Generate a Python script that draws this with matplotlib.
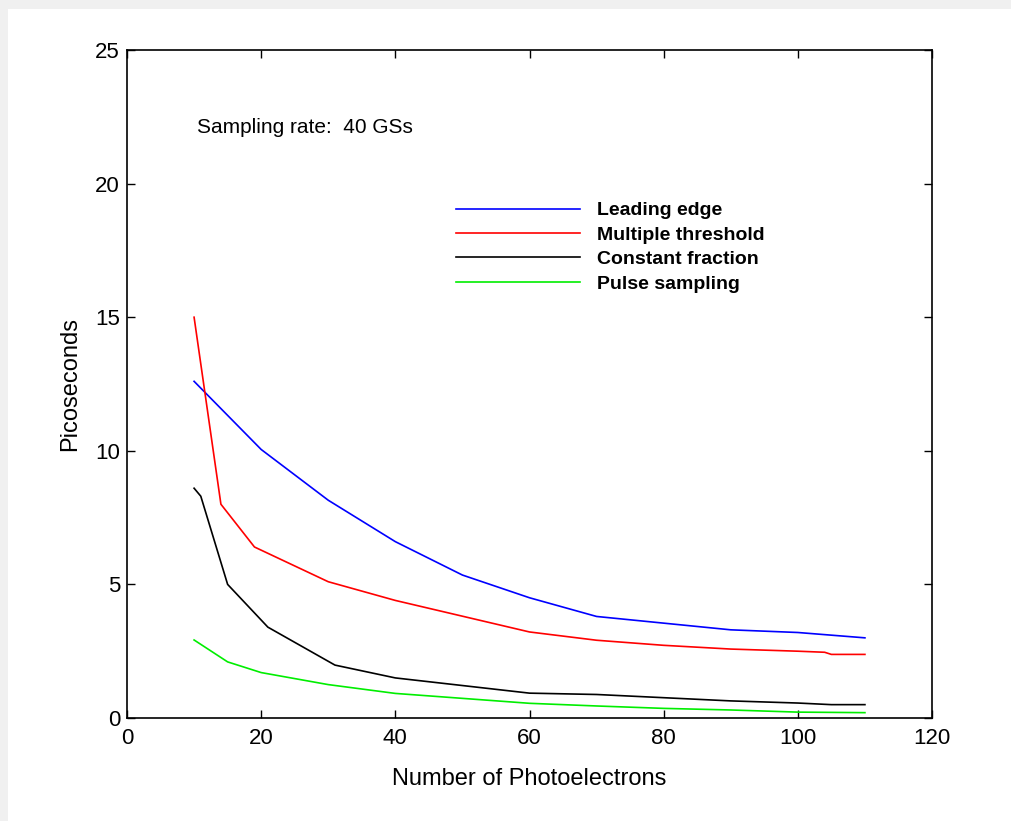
import matplotlib
matplotlib.use("Agg")
import matplotlib.pyplot as plt
from matplotlib.patches import Rectangle

plt.rcParams['font.family'] = ['Liberation Sans', 'DejaVu Sans']

# values
le_x = [10, 20, 30, 40, 50, 60, 70, 80, 90, 100, 105, 110]
le_y = [12.6, 10.05, 8.15, 6.6, 5.35, 4.5, 3.8, 3.55, 3.3, 3.2, 3.1, 3.0]

mt_x = [10, 14, 19, 30, 40, 60, 70, 80, 90, 100, 104, 105, 110]
mt_y = [15.0, 8.0, 6.4, 5.1, 4.4, 3.22, 2.91, 2.72, 2.58, 2.5, 2.46, 2.38, 2.38]

cf_x = [10, 11, 15, 21, 31, 40, 60, 70, 80, 90, 100, 105, 110]
cf_y = [8.6, 8.3, 5.0, 3.4, 1.98, 1.5, 0.93, 0.88, 0.76, 0.64, 0.56, 0.5, 0.5]

ps_x = [10, 15, 20, 30, 40, 60, 70, 80, 90, 100, 110]
ps_y = [2.92, 2.1, 1.7, 1.25, 0.92, 0.55, 0.45, 0.36, 0.3, 0.22, 0.2]

labels = ["Leading edge", "Multiple threshold", "Constant fraction", "Pulse sampling"]

fig = plt.figure(figsize=(10.11, 8.21), dpi=100, facecolor="#f0f0f0")
fig.patches.append(Rectangle((8 / 1011, 0), 1, 1 - 9 / 821, transform=fig.transFigure,
                             facecolor="white", edgecolor="none", zorder=-1))
ax = fig.add_axes([127 / 1011, 1 - 718 / 821, 805 / 1011, 668 / 821])

lw = 1.2
ax.plot(le_x, le_y, color="#0000ff", lw=lw, label=labels[0])
ax.plot(mt_x, mt_y, color="#ff0000", lw=lw, label=labels[1])
ax.plot(cf_x, cf_y, color="black", lw=lw, label=labels[2])
ax.plot(ps_x, ps_y, color="#00ee00", lw=lw, label=labels[3])

ax.set_xlim(0, 120)
ax.set_ylim(0, 25)
ax.set_xticks([0, 20, 40, 60, 80, 100, 120])
ax.set_yticks([0, 5, 10, 15, 20, 25])
ax.tick_params(direction="in", top=True, right=True, length=6, width=1,
               labelsize=16)
ax.tick_params(axis="x", pad=7)
ax.tick_params(axis="y", pad=5)
for s in ax.spines.values():
    s.set_linewidth(1.2)

ax.set_xlabel("Number of Photoelectrons", fontsize=17, labelpad=14)
ax.set_ylabel("Picoseconds", fontsize=17, labelpad=10)

ax.text(10.4, 22.1, "Sampling rate:  40 GSs", fontsize=15, va="center", ha="left")

leg = ax.legend(loc="upper left", bbox_to_anchor=((446 - 127) / 805, (718 - 192) / 668),
                frameon=False, borderpad=0, handlelength=6.4, handletextpad=0.85,
                labelspacing=0.35, prop={"weight": "bold", "size": 14})

fig.savefig("out.png", dpi=100, facecolor=fig.get_facecolor())
